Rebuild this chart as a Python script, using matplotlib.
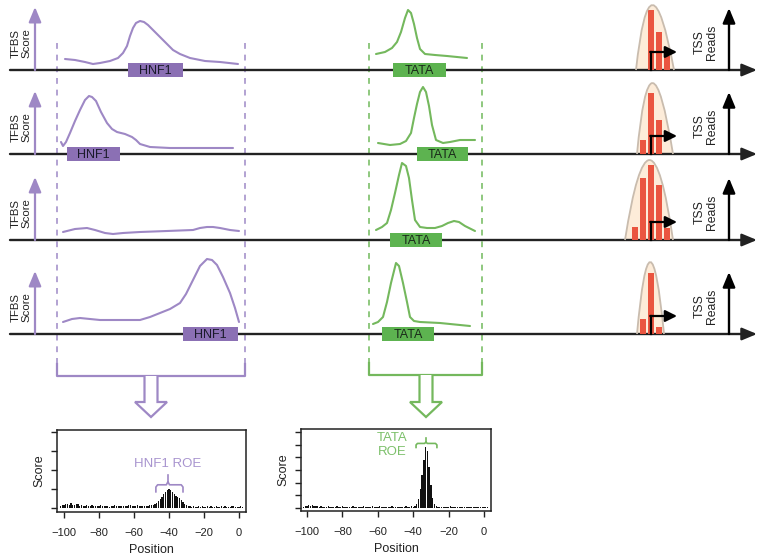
import numpy as np
import matplotlib.pyplot as plt
from matplotlib.path import Path
from matplotlib.patches import PathPatch, Polygon, Rectangle

plt.rcParams['font.family'] = ['Liberation Sans', 'DejaVu Sans']

# schematic is laid out in pixel units of the 760x559 canvas
row_base = [70, 154, 240, 334]

# HNF1 TFBS score curves (x, height above track)
hnf1_x = [
    [65, 75, 85, 93, 100, 110, 118, 123, 127, 130, 133, 136, 140, 144, 148, 154, 160, 167, 173, 180, 190, 205, 220, 238],
    [61, 63, 66, 70, 75, 80, 85, 89, 92, 96, 101, 107, 112, 117, 125, 132, 136, 140, 150, 170, 200, 233],
    [63, 75, 87, 95, 105, 113, 123, 140, 167, 193, 200, 207, 213, 220, 230, 239],
    [63, 72, 80, 90, 100, 140, 150, 160, 170, 180, 186, 193, 200, 207, 212, 217, 223, 230, 235, 239],
]
hnf1_h = [
    [11, 10, 8, 6, 7, 9, 12, 17, 24, 34, 42, 47, 49, 48, 45, 39, 33, 26, 20, 16, 12, 9, 8, 6],
    [12, 8, 12, 21, 33, 44, 54, 58, 57, 53, 42, 31, 25, 22, 20, 17, 14, 10, 7, 6, 6, 6],
    [8, 11, 12, 10, 7, 6, 7, 8, 9, 10, 12, 13, 13, 12, 10, 9],
    [12, 15, 16, 15, 14, 14, 17, 21, 25, 31, 40, 54, 68, 75, 74, 69, 57, 41, 26, 12],
]
# TATA TFBS score curves
tata_x = [
    [376, 385, 392, 397, 401, 405, 408, 411, 414, 417, 420, 425, 435, 447, 467],
    [378, 390, 400, 406, 411, 414, 417, 420, 423, 426, 429, 432, 436, 443, 450, 460, 475],
    [376, 382, 387, 391, 395, 399, 402, 406, 409, 412, 415, 420, 427, 435, 442, 448, 454, 459, 465, 475],
    [373, 378, 383, 387, 391, 396, 399, 403, 407, 410, 414, 420, 440, 470],
]
tata_h = [
    [16, 18, 22, 28, 38, 52, 60, 57, 46, 32, 21, 16, 15, 14, 12],
    [11, 9, 10, 13, 21, 36, 50, 62, 67, 62, 48, 29, 14, 11, 12, 14, 14],
    [10, 13, 17, 30, 47, 65, 77, 74, 62, 40, 20, 13, 12, 12, 14, 17, 19, 18, 14, 9],
    [10, 12, 17, 32, 51, 71, 68, 51, 32, 17, 13, 12, 11, 8],
]
hnf1_box = [(128, 183), (67, 120), None, (183, 238)]
tata_box = [(393, 446), (417, 468), (390, 442), (382, 434)]

# TSS read bars and envelope
tss_pos = [634.5, 642.5, 650.5, 658.5, 666.5]
tss_reads = [
    [0, 0, 60, 38, 14],
    [0, 14, 61, 34, 0],
    [13, 62, 75, 55, 12],
    [0, 15, 61, 7, 0],
]
tss_bell = [(636, 674, 65), (637, 673, 71), (625, 673, 80), (637, 664, 72)]

# aggregated score histograms
positions = np.arange(-102, 3)
hnf1_score = [
    0.12, 0.18, 0.15, 0.22, 0.20, 0.14, 0.24, 0.18, 0.16, 0.22, 0.19, 0.12, 0.15,
    0.10, 0.08, 0.14, 0.12, 0.09, 0.15, 0.11, 0.13, 0.08, 0.12, 0.16, 0.10, 0.09, 0.13, 0.11, 0.07, 0.12, 0.10, 0.14, 0.09,
    0.11, 0.08, 0.13, 0.10, 0.12, 0.09, 0.16, 0.14, 0.11, 0.13, 0.10, 0.15, 0.08, 0.12, 0.10, 0.09, 0.13, 0.11, 0.14, 0.16,
    0.18, 0.22, 0.28, 0.36, 0.46, 0.58, 0.72, 0.86, 0.96, 1.00, 0.93, 0.82, 0.72, 0.64, 0.57, 0.50, 0.42, 0.32, 0.22, 0.14, 0.10,
    0.08, 0.06, 0.09, 0.07, 0.05, 0.08, 0.06, 0.10, 0.07, 0.05, 0.08, 0.06, 0.09, 0.07, 0.06, 0.08, 0.05, 0.07, 0.09, 0.06,
    0.08, 0.05, 0.07, 0.06, 0.08, 0.09, 0.05, 0.07, 0.06, 0.08, 0.07,
]
tata_score = [
    0.10, 0.14, 0.12, 0.20, 0.16, 0.24, 0.18, 0.12, 0.15, 0.10, 0.13, 0.11, 0.09,
    0.08, 0.12, 0.10, 0.07, 0.11, 0.09, 0.13, 0.08, 0.10, 0.12, 0.07, 0.09, 0.11, 0.08, 0.10, 0.13, 0.09, 0.07, 0.11, 0.10,
    0.08, 0.12, 0.09, 0.10, 0.07, 0.11, 0.14, 0.09, 0.08, 0.10, 0.12, 0.07, 0.09, 0.11, 0.08, 0.10, 0.09, 0.12, 0.07, 0.10,
    0.08, 0.11, 0.09, 0.07, 0.10, 0.12, 0.08, 0.09, 0.13, 0.10,
    0.15, 0.30, 0.70, 1.50, 2.60, 3.80, 4.80, 4.50, 3.20, 1.80, 0.80, 0.35, 0.15,
    0.09, 0.07, 0.11, 0.08, 0.10, 0.06, 0.09, 0.12, 0.08, 0.07, 0.10, 0.09, 0.06, 0.11, 0.08,
    0.07, 0.10, 0.09, 0.06, 0.08, 0.11, 0.07, 0.09, 0.08, 0.06, 0.10, 0.07, 0.08, 0.09,
]

purple = '#9e88c5'
purple_box = '#8b70b4'
purple_dash = '#a592cb'
green = '#74b85d'
green_box = '#5db350'
green_dash = '#7cbf68'
red = '#ea5540'
dark = '#222222'

fig = plt.figure(figsize=(7.6, 5.59), dpi=100)
ax = fig.add_axes([0, 0, 1, 1])
ax.set_xlim(0, 760)
ax.set_ylim(559, 0)
ax.axis('off')

arrow_style = '-|>,head_length=0.6,head_width=0.25'

for i, b in enumerate(row_base):
    # track
    ax.annotate('', xy=(757, b), xytext=(10, b),
                arrowprops=dict(arrowstyle=arrow_style, lw=1.7, color=dark,
                                mutation_scale=15, shrinkA=0, shrinkB=0))
    # TFBS score axis
    ax.annotate('', xy=(35, b - 63), xytext=(35, b),
                arrowprops=dict(arrowstyle=arrow_style, lw=1.6, color=purple,
                                mutation_scale=15, shrinkA=0, shrinkB=0))
    ax.text(21, b - 27, 'TFBS\nScore', rotation=90, ha='center', va='center',
            fontsize=8.2, linespacing=1.05, color=dark)
    # TSS reads axis
    ax.annotate('', xy=(729, b - 62), xytext=(729, b),
                arrowprops=dict(arrowstyle=arrow_style, lw=1.7, color='black',
                                mutation_scale=15, shrinkA=0, shrinkB=0))
    ax.text(706, b - 28, 'TSS\nReads', rotation=90, ha='center', va='center',
            fontsize=8.8, linespacing=1.1, color=dark)

    # score curves
    ax.plot(hnf1_x[i], b - np.array(hnf1_h[i]), color=purple, lw=1.5,
            solid_joinstyle='round', solid_capstyle='round', zorder=3)
    ax.plot(tata_x[i], b - np.array(tata_h[i]), color=green, lw=1.5,
            solid_joinstyle='round', solid_capstyle='round', zorder=3)

    # motif boxes
    if hnf1_box[i] is not None:
        x0, x1 = hnf1_box[i]
        ax.add_patch(Rectangle((x0, b - 7), x1 - x0, 14, facecolor=purple_box,
                               edgecolor='none', zorder=4))
        ax.text((x0 + x1) / 2, b + 0.5, 'HNF1', ha='center', va='center',
                fontsize=9, color='#1a1a2a', zorder=5)
    x0, x1 = tata_box[i]
    ax.add_patch(Rectangle((x0, b - 7), x1 - x0, 14, facecolor=green_box,
                           edgecolor='none', zorder=4))
    ax.text((x0 + x1) / 2, b + 0.5, 'TATA', ha='center', va='center',
            fontsize=9, color='#1a2a1a', zorder=5)

    # TSS envelope + read bars
    left, right, h = tss_bell[i]
    bell = Path([(left, b), (650, b - 2 * h), (right, b)],
                [Path.MOVETO, Path.CURVE3, Path.CURVE3])
    ax.add_patch(PathPatch(bell, facecolor='#fdecd9', edgecolor='none', zorder=2))
    ax.bar(tss_pos, -np.array(tss_reads[i]), bottom=b, width=6,
           color=red, edgecolor='none', zorder=3)
    ax.add_patch(PathPatch(bell, facecolor='none', edgecolor='#c9bcae',
                           lw=1.3, zorder=4))
    # TSS bent arrow
    ax.plot([651, 651], [b, b - 18], color='black', lw=1.6, zorder=5)
    ax.annotate('', xy=(677, b - 18), xytext=(650.2, b - 18),
                arrowprops=dict(arrowstyle='-|>,head_length=0.5,head_width=0.25',
                                lw=1.6, color='black', mutation_scale=14,
                                shrinkA=0, shrinkB=0), zorder=5)

# window boundaries, brackets and hollow arrows
windows = [((57, 245), 376, purple_dash, purple, 151),
           ((369, 482), 375, green_dash, green, 426)]
for (xl, xr), yb, dcol, col, xm in windows:
    for xv in (xl, xr):
        ax.plot([xv, xv], [43, yb - 12], color=dcol, lw=1.2,
                linestyle=(0, (3.5, 3.5)), zorder=1)
    ax.plot([xl, xl, xr, xr], [yb - 12, yb, yb, yb - 12], color=col, lw=1.6,
            solid_joinstyle='round', zorder=2)
    stem, head = 6.5, 16
    arrow = Polygon([(xm - stem, yb), (xm - stem, 402), (xm - head, 402),
                     (xm, 417), (xm + head, 402), (xm + stem, 402), (xm + stem, yb)],
                    closed=False, facecolor='white', edgecolor=col, lw=1.6,
                    joinstyle='miter', zorder=3)
    ax.add_patch(arrow)

# bottom histograms
hist_specs = [
    ([57, 47, 189, 82], hnf1_score, (-104, 4), (-0.21, 4.1), 5),
    ([301, 48, 190, 82], tata_score, (-103.4, 3.95), (-0.24, 6.24), 7),
]
hist_axes = []
for rect, score, xl, yl, nt in hist_specs:
    l, btm, w, h = rect
    hx = fig.add_axes([l / 760, btm / 559, w / 760, h / 559])
    hx.bar(positions, score, width=0.8, color='#111111', edgecolor='none')
    hx.set_xlim(*xl)
    hx.set_ylim(*yl)
    hx.set_xticks(range(-100, 1, 20))
    hx.set_yticks(range(nt))
    hx.set_yticklabels([])
    hx.tick_params(direction='out', length=4.5, width=1, labelsize=8,
                   pad=7, colors='#222222')
    hx.tick_params(axis='y', pad=2)
    for s in hx.spines.values():
        s.set_linewidth(1.1)
        s.set_color('#222222')
    hx.set_ylabel('Score', fontsize=9, labelpad=2, color='#222222')
    hx.set_xlabel('Position', fontsize=9, labelpad=4, color='#222222')
    hist_axes.append(hx)

h1, h2 = hist_axes
# HNF1 ROE brace
h1.plot([-47.5, -47.5, -46.5, -41.5, -40.6, -39.7, -33, -32, -32],
        [0.85, 1.1, 1.22, 1.22, 1.38, 1.22, 1.22, 1.1, 0.85],
        color=purple, lw=1.2)
h1.plot([-40.6, -40.6], [1.38, 1.75], color=purple, lw=1.2)
h1.text(-40.6, 2.3, 'HNF1 ROE', ha='center', va='center', fontsize=9.5,
        color='#a894cf')
# TATA ROE brace
h2.plot([-38.4, -38.4, -37.6, -33.5, -32.8, -32.1, -27.4, -26.6, -26.6],
        [4.78, 4.98, 5.1, 5.1, 5.22, 5.1, 5.1, 4.98, 4.78],
        color=green, lw=1.2)
h2.plot([-32.8, -32.8], [5.22, 5.5], color=green, lw=1.2)
h2.text(-52, 4.95, 'TATA\nROE', ha='center', va='center', fontsize=9.5,
        color='#7cc06a', linespacing=1.25)

fig.savefig('out.png', dpi=100, facecolor='white')
